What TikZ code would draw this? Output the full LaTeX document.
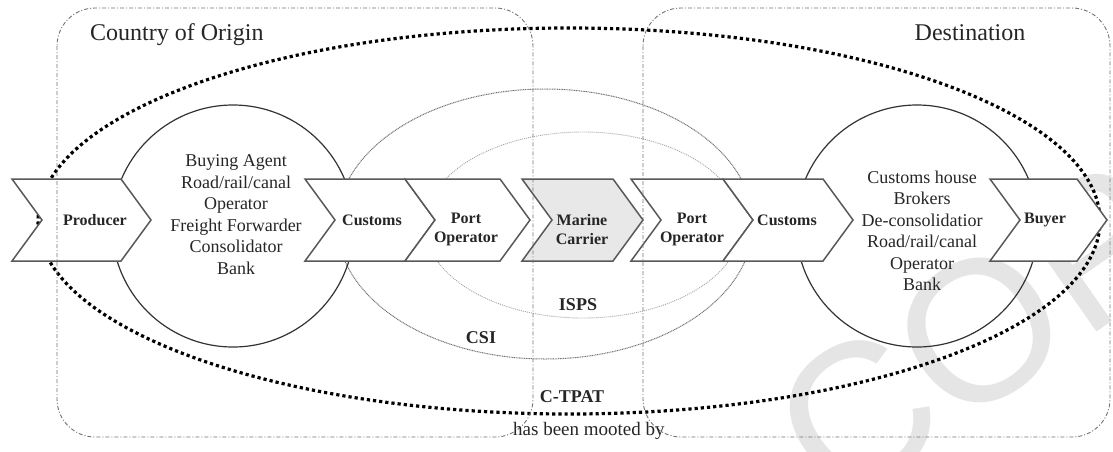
\documentclass[tikz,border=0pt]{standalone}
\usepackage{fontspec}
\setmainfont{Liberation Serif}
\setsansfont{Liberation Sans}

% chevron outline: [path options]{left x}{top width}
\newcommand{\chevron}[3][]{%
  \draw[chevline,#1] (#2,179) -- ++(#3,0) -- ++(30,41) -- ++(-30,41)
    -- ++(-#3,0) -- ++(30,-41) -- cycle;}

\begin{document}
\begin{tikzpicture}[x=1pt, y=-1pt,
    chevline/.style={draw=black!65, line width=1.5pt, fill=white},
    chevlabel/.style={font=\fontsize{16}{19}\selectfont\bfseries, align=center, inner sep=0pt, text=black!85},
    agents/.style={font=\fontsize{18}{21.5}\selectfont, align=center, inner sep=0pt, text=black!85},
    progl/.style={font=\fontsize{18}{21}\selectfont\bfseries, inner sep=0pt, text=black!85},
    region/.style={draw=black!55, line width=0.9pt, rounded corners=38pt,
      dash pattern=on 4pt off 2pt on 1pt off 2pt},
    ring/.style={draw=black!80, line width=1.2pt},
    ctpatline/.style={draw=black, line width=3.2pt, dash pattern=on 3.2pt off 3pt},
    csiline/.style={draw=black!55, line width=1pt, dash pattern=on 1pt off 0.7pt},
    ispsline/.style={draw=black!35, line width=0.9pt, dash pattern=on 1pt off 1pt}
  ]
  \useasboundingbox[fill=white] (0,0) rectangle (1113,451);

  % watermark
  \begin{scope}
    \clip (0,0) rectangle (1113,451);
    \node[rotate=35, inner sep=0pt, text=black!10,
      font=\sffamily\fontsize{200}{200}\selectfont] (stamp) at (1030,295) {COPY};
  \end{scope}

  % programmes
  \draw[ctpatline] (569,221) ellipse [x radius=531, y radius=193];
  \draw[csiline] (545,224) ellipse [x radius=208, y radius=135];
  \draw[ispsline] (583,225) ellipse [x radius=158, y radius=93];

  % parties at origin and destination
  \draw[ring] (233,226) circle [radius=121];
  \draw[ring] (917,226) circle [radius=121];

  % chain
  \chevron{12}{109}
  \chevron{305}{100}
  \chevron{405}{95}
  \chevron[fill=black!9]{522}{91}
  \chevron{631}{92}
  \chevron{723}{100}
  \chevron{990}{87}

  \node[chevlabel] (producer) at (95,220) {Producer};
  \node[chevlabel] (customsA) at (372,220) {Customs};
  \node[chevlabel] (portA) at (466,229.5) {Port\\Operator};
  \node[chevlabel] (marine) at (582,229.5) {Marine\\Carrier};
  \node[chevlabel] (portB) at (692,229.5) {Port\\Operator};
  \node[chevlabel] (customsB) at (787,220) {Customs};
  \node[chevlabel] (buyer) at (1045,220) {Buyer};

  \node[agents] (agentsA) at (236,214.5)
    {Buying Agent\\Road/rail/canal\\Operator\\Freight Forwarder\\Consolidator\\Bank};
  \node[agents] (agentsB) at (922,231)
    {Customs house\\Brokers\\De-consolidatior\\Road/rail/canal\\Operator\\Bank};

  % countries
  \draw[region] (57,8) rectangle (533,437);
  \draw[region] (643,8) rectangle (1110,437);
  \node[anchor=base west, inner sep=0pt, font=\fontsize{24}{28}\selectfont, text=black!85]
    (origin) at (90,40) {Country of Origin};
  \node[anchor=base, inner sep=0pt, font=\fontsize{24}{28}\selectfont, text=black!85]
    (dest) at (970,40) {Destination};

  \node[progl] (isps) at (578,305) {ISPS};
  \node[progl] (csi) at (481,338) {CSI};
  \node[progl] (ctpat) at (572,397) {C-TPAT};
  \node[anchor=base west, inner sep=0pt, font=\fontsize{19}{22}\selectfont, text=black!85]
    (mooted) at (513,435) {has been mooted by};
\end{tikzpicture}
\end{document}
